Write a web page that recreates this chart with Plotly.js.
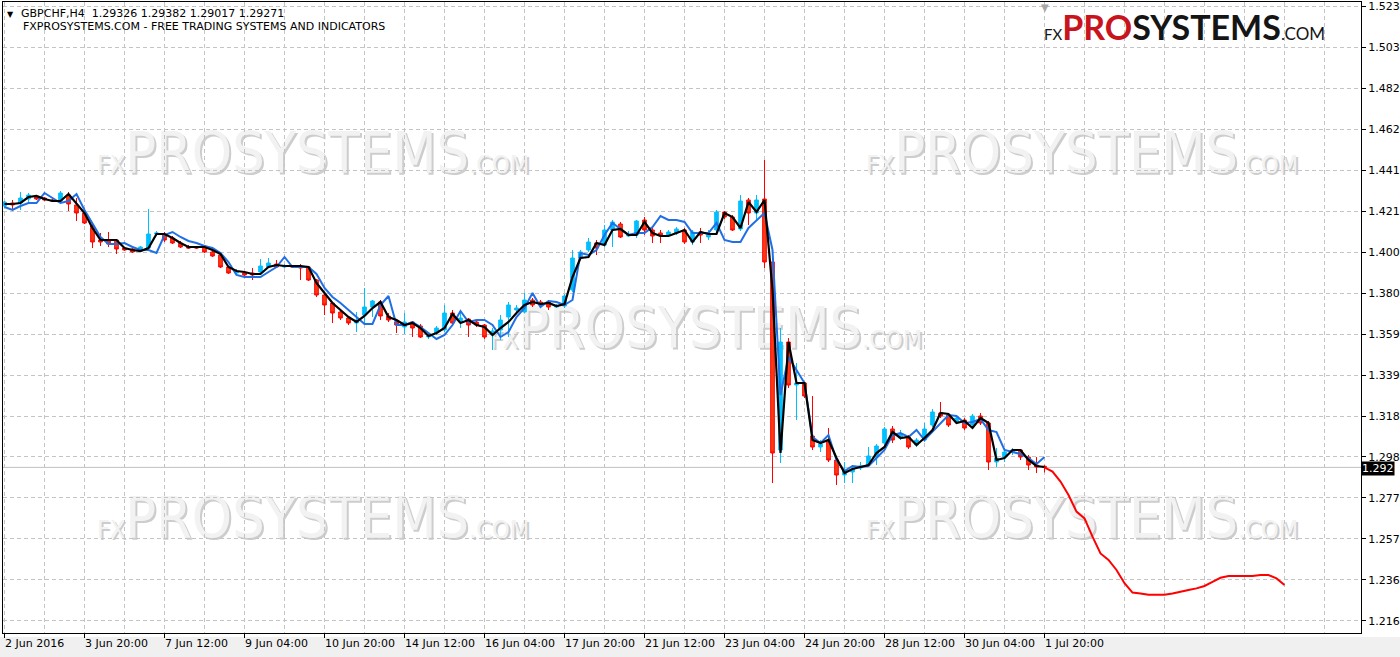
<!DOCTYPE html>
<html><head><meta charset="utf-8">
<script src="https://cdn.plot.ly/plotly-3.0.1.min.js"></script>
<style>html,body{margin:0;padding:0;background:#fff;}#chart{width:1400px;height:657px;}</style>
</head><body><div id="chart"></div>
<script>
const symbolTitle = "GBPCHF,H4&nbsp;&nbsp;1.29326 1.29382 1.29017 1.29271";
const subTitle = "FXPROSYSTEMS.COM - FREE TRADING SYSTEMS AND INDICATORS";
const lastPriceLabel = "1.292";

const openP = [1.4234,1.4249,1.4249,1.4269,1.4279,1.4274,1.4264,1.4259,1.4289,1.4239,
1.4199,1.4134,1.4064,1.4059,1.4064,1.4024,1.4019,1.4009,1.4024,1.4094,
1.4094,1.4074,1.4049,1.4029,1.4029,1.4034,1.4004,1.3989,1.3929,1.3899,
1.3899,1.3899,1.3904,1.3929,1.3944,1.3929,1.3934,1.3934,1.3929,1.3864,
1.3789,1.3749,1.3704,1.3674,1.3649,1.3689,1.3729,1.3754,1.3684,1.3654,
1.3629,1.3654,1.3634,1.3579,1.3599,1.3614,1.3699,1.3654,1.3669,1.3654,
1.3639,1.3589,1.3614,1.3679,1.3714,1.3704,1.3764,1.3754,1.3754,1.3729,
1.3734,1.3814,1.3974,1.4014,1.4049,1.4039,1.4114,1.4144,1.4084,1.4089,
1.4164,1.4114,1.4099,1.4089,1.4099,1.4114,1.4054,1.4104,1.4079,1.4114,
1.4204,1.4179,1.4119,1.4264,1.4199,1.4269,1.3954,1.3014,1.3554,1.3339,
1.3349,1.3084,1.3029,1.3064,1.2964,1.2889,1.2904,1.2924,1.2939,1.2979,
1.3049,1.3119,1.3074,1.3079,1.3039,1.3064,1.3139,1.3199,1.3189,1.3154,
1.3164,1.3139,1.3184,1.3149,1.2954,1.2979,1.3004,1.3014,1.2979,1.2939,
1.29326];
const highP = [1.4259,1.4264,1.4304,1.4299,1.4289,1.4279,1.4269,1.4309,1.4304,1.4274,
1.4204,1.4144,1.4099,1.4104,1.4069,1.4029,1.4024,1.4034,1.4219,1.4109,
1.4104,1.4084,1.4059,1.4039,1.4034,1.4039,1.4014,1.3994,1.3934,1.3919,
1.3904,1.3924,1.3969,1.3974,1.3964,1.3944,1.3939,1.3944,1.3934,1.3869,
1.3794,1.3754,1.3714,1.3684,1.3704,1.3824,1.3764,1.3764,1.3699,1.3669,
1.3699,1.3659,1.3644,1.3594,1.3634,1.3739,1.3714,1.3699,1.3674,1.3664,
1.3644,1.3624,1.3689,1.3754,1.3739,1.3799,1.3774,1.3764,1.3764,1.3744,
1.3794,1.4014,1.4014,1.4074,1.4064,1.4139,1.4164,1.4154,1.4109,1.4164,
1.4179,1.4124,1.4114,1.4114,1.4129,1.4124,1.4114,1.4124,1.4114,1.4214,
1.4209,1.4189,1.4289,1.4274,1.4289,1.4464,1.3954,1.3624,1.3574,1.3449,
1.3354,1.3284,1.3064,1.3124,1.2974,1.2954,1.2939,1.2954,1.3029,1.3044,
1.3129,1.3134,1.3114,1.3089,1.3074,1.3149,1.3219,1.3254,1.3199,1.3189,
1.3174,1.3194,1.3199,1.3159,1.3024,1.3024,1.3024,1.3019,1.2989,1.2979,
1.29382];
const lowP = [1.4224,1.4219,1.4214,1.4249,1.4264,1.4259,1.4254,1.4254,1.4209,1.4159,
1.4144,1.4024,1.4034,1.4029,1.3994,1.4009,1.3999,1.4004,1.4014,1.4084,
1.4054,1.4044,1.4024,1.4019,1.4019,1.3999,1.3979,1.3924,1.3894,1.3894,
1.3884,1.3864,1.3899,1.3924,1.3924,1.3924,1.3924,1.3864,1.3859,1.3779,
1.3689,1.3649,1.3664,1.3639,1.3604,1.3649,1.3679,1.3664,1.3654,1.3599,
1.3594,1.3579,1.3574,1.3569,1.3589,1.3604,1.3639,1.3624,1.3579,1.3629,
1.3569,1.3514,1.3564,1.3579,1.3694,1.3699,1.3729,1.3724,1.3714,1.3724,
1.3724,1.3804,1.3964,1.4004,1.3989,1.4029,1.4029,1.4074,1.4079,1.4074,
1.4089,1.4049,1.4049,1.4079,1.4089,1.4044,1.4039,1.4049,1.4064,1.4104,
1.4169,1.4109,1.4109,1.4139,1.4164,1.3924,1.2849,1.2949,1.3324,1.3164,
1.3274,1.3014,1.3004,1.2954,1.2839,1.2849,1.2849,1.2914,1.2934,1.2939,
1.3039,1.3049,1.3064,1.3019,1.3029,1.3054,1.3129,1.3174,1.3129,1.3144,
1.3114,1.3129,1.3139,1.2914,1.2929,1.2954,1.2989,1.2964,1.2914,1.2899,
1.29017];
const closeP = [1.4254,1.4239,1.4274,1.4289,1.4269,1.4264,1.4259,1.4299,1.4244,1.4199,
1.4149,1.4054,1.4054,1.4044,1.4019,1.4014,1.4004,1.4029,1.4094,1.4099,
1.4064,1.4049,1.4029,1.4024,1.4024,1.4004,1.3984,1.3929,1.3899,1.3909,
1.3889,1.3889,1.3934,1.3949,1.3929,1.3934,1.3929,1.3924,1.3864,1.3789,
1.3739,1.3699,1.3674,1.3649,1.3664,1.3729,1.3759,1.3684,1.3664,1.3639,
1.3654,1.3624,1.3579,1.3584,1.3624,1.3699,1.3649,1.3674,1.3639,1.3639,
1.3579,1.3609,1.3664,1.3739,1.3724,1.3764,1.3739,1.3739,1.3729,1.3734,
1.3784,1.3974,1.4004,1.4054,1.4024,1.4114,1.4154,1.4079,1.4094,1.4159,
1.4114,1.4084,1.4084,1.4104,1.4119,1.4054,1.4104,1.4089,1.4094,1.4204,
1.4179,1.4114,1.4259,1.4199,1.4264,1.3954,1.2999,1.3554,1.3339,1.3349,
1.3284,1.3029,1.3044,1.2964,1.2889,1.2914,1.2919,1.2934,1.2984,1.3034,
1.3119,1.3064,1.3094,1.3029,1.3064,1.3119,1.3204,1.3184,1.3139,1.3174,
1.3124,1.3184,1.3149,1.2954,1.2974,1.3004,1.3014,1.2979,1.2939,1.2929,
1.29271];
const maBlack = [1.4244,1.4244,1.4249,1.4279,1.4284,1.4269,1.4259,1.4259,1.4294,1.4249,
1.4199,1.4124,1.4064,1.4064,1.4064,1.4024,1.4014,1.4009,1.4024,1.4094,
1.4094,1.4074,1.4049,1.4029,1.4029,1.4029,1.4014,1.3994,1.3929,1.3909,
1.3904,1.3894,1.3894,1.3929,1.3939,1.3934,1.3934,1.3934,1.3929,1.3849,
1.3799,1.3749,1.3714,1.3679,1.3654,1.3684,1.3724,1.3754,1.3679,1.3664,
1.3639,1.3649,1.3624,1.3584,1.3599,1.3624,1.3694,1.3649,1.3664,1.3639,
1.3629,1.3589,1.3624,1.3654,1.3699,1.3739,1.3754,1.3744,1.3749,1.3734,
1.3744,1.3879,1.3974,1.3979,1.4049,1.4039,1.4114,1.4119,1.4089,1.4089,
1.4154,1.4099,1.4084,1.4084,1.4099,1.4114,1.4054,1.4104,1.4094,1.4094,
1.4199,1.4179,1.4124,1.4254,1.4204,1.4264,1.3814,1.2999,1.3554,1.3349,
1.3349,1.3064,1.3049,1.3064,1.2974,1.2899,1.2919,1.2929,1.2939,1.2999,
1.3029,1.3104,1.3074,1.3079,1.3039,1.3074,1.3114,1.3199,1.3194,1.3149,
1.3159,1.3124,1.3174,1.3149,1.2964,1.2974,1.3014,1.3014,1.2964,1.2934,
1.2929];
const maBlue = [1.4229,1.4214,1.4234,1.4249,1.4249,1.4299,1.4274,1.4249,1.4259,1.4294,
1.4214,1.4149,1.4079,1.4044,1.4044,1.4049,1.4029,1.4014,1.4014,1.3999,
1.4089,1.4104,1.4079,1.4059,1.4049,1.4034,1.4024,1.3999,1.3954,1.3889,
1.3879,1.3879,1.3879,1.3904,1.3929,1.3979,1.3929,1.3929,1.3929,1.3894,
1.3824,1.3779,1.3749,1.3714,1.3679,1.3644,1.3644,1.3739,1.3784,1.3639,
1.3639,1.3654,1.3629,1.3599,1.3569,1.3589,1.3639,1.3709,1.3654,1.3664,
1.3664,1.3639,1.3579,1.3604,1.3679,1.3724,1.3799,1.3729,1.3759,1.3754,
1.3739,1.3764,1.3999,1.3989,1.4014,1.4089,1.4149,1.4119,1.4089,1.4099,
1.4099,1.4129,1.4184,1.4164,1.4164,1.4154,1.4099,1.4099,1.4099,1.4149,
1.4064,1.4054,1.4054,1.4124,1.4164,1.4199,1.4014,1.3289,1.3479,1.3414,
1.3349,1.3079,1.3049,1.3089,1.2964,1.2909,1.2934,1.2929,1.2934,1.2974,
1.3014,1.3089,1.3099,1.3079,1.3114,1.3064,1.3104,1.3149,1.3189,1.3184,
1.3149,1.3154,1.3169,1.3114,1.3104,1.3014,1.3004,1.2994,1.2974,1.2944,
1.2979];
const forecastP = [1.29271,1.2906,1.2856,1.2789,1.2706,1.2672,1.2581,1.2497,1.2464,1.2414,
1.2348,1.2301,1.2297,1.2290,1.2290,1.2290,1.2297,1.2307,1.2314,1.2322,
1.2334,1.2355,1.2375,1.2384,1.2384,1.2384,1.2384,1.2389,1.2389,1.2372,1.2339];
const xTickLabels = ["2 Jun 2016","3 Jun 20:00","7 Jun 12:00","9 Jun 04:00","10 Jun 20:00","14 Jun 12:00","16 Jun 04:00","17 Jun 20:00","21 Jun 12:00","23 Jun 04:00","24 Jun 20:00","28 Jun 12:00","30 Jun 04:00","1 Jul 20:00"];
const barsPerLabel = 10;
const yTickVals = [1.2160,1.23648,1.25696,1.27744,1.29792,1.3184,1.33888,1.35936,1.37984,1.40032,1.4208,1.44128,1.46176,1.48224,1.50272,1.5232];
const yTickText = ["1.216","1.236","1.257","1.277","1.298","1.318","1.339","1.359","1.380","1.400","1.421","1.441","1.462","1.482","1.503","1.523"];

const bars = openP.map((_, i) => i);
const lastBar = bars.length - 1;
const lastClose = closeP[lastBar];
const fx = forecastP.map((_, k) => lastBar + k);
const xTickPos = xTickLabels.map((_, k) => k * barsPerLabel);

const traces = [
  {type:'candlestick', x:bars, open:openP, high:highP, low:lowP, close:closeP,
   increasing:{line:{color:'#00bfff', width:1}, fillcolor:'#00bfff'},
   decreasing:{line:{color:'#ff0000', width:1}, fillcolor:'#ff3a10'},
   whiskerwidth:0, hoverinfo:'skip', showlegend:false},
  {type:'scatter', mode:'lines', x:bars, y:maBlue, line:{color:'#1f6fe6', width:2}, hoverinfo:'skip'},
  {type:'scatter', mode:'lines', x:bars, y:maBlack, line:{color:'#000000', width:2.2}, hoverinfo:'skip'},
  {type:'scatter', mode:'lines', x:fx, y:forecastP, line:{color:'#ff0000', width:2}, hoverinfo:'skip'}
];

const PL = 3, PR = 39, PT = 2, PB = 24, W = 1400, H = 657;
const PW = W - PL - PR, PH = H - PT - PB;
const dx = px => (px - PL) / PW;
const dy = py => 1 - (py - PT) / PH;

const wmText = '<span style="font-size:25px">FX</span>PROSYSTEMS<span style="font-size:25px">.COM</span>';
const wmCenters = [[313,149],[1082,149],[706,324],[313,514],[1082,514]];
const shapes = [];
wmCenters.forEach(([cx, cy]) => {
  [[2, 2, '#cdcdcd'], [0, 0, '#f2f2f2']].forEach(([ox, oy, col]) => {
    shapes.push({type:'rect', xref:'x domain', yref:'y domain', layer:'below',
      x0:dx(cx - 240 + ox), x1:dx(cx + 240 + ox), y0:dy(cy + 40 + oy), y1:dy(cy - 40 + oy),
      line:{width:0}, fillcolor:'rgba(0,0,0,0)',
      label:{text:wmText, textposition:'middle center', padding:0,
        font:{family:'Liberation Sans Narrow, DejaVu Sans Condensed, sans-serif', size:57, color:col}}});
  });
});
shapes.push({type:'line', xref:'paper', x0:0, x1:1, yref:'y', y0:lastClose, y1:lastClose,
  line:{color:'#c0c0c0', width:1}, layer:'below'});
shapes.push({type:'rect', xref:'paper', yref:'paper', x0:-PL/PW, x1:(W-PL)/PW, y0:-(PB-20)/PH, y1:-PB/PH,
  line:{width:0}, fillcolor:'#f0f0f0', layer:'below'});

const annotations = [];
xTickLabels.forEach((t, k) => {
  annotations.push({xref:'x', x:xTickPos[k], xanchor:'left', xshift:-2, yref:'paper', y:0, yanchor:'top', yshift:-2,
    text:t, showarrow:false, font:{family:'DejaVu Sans', size:11, color:'#000'}});
});
annotations.push({xref:'paper', x:0, xanchor:'left', xshift:2, yref:'paper', y:1, yanchor:'top', yshift:-6,
  text:'▼', showarrow:false, font:{family:'DejaVu Sans', size:8, color:'#000'}});
annotations.push({xref:'paper', x:0, xanchor:'left', xshift:16, yref:'paper', y:1, yanchor:'top', yshift:-3,
  text:symbolTitle, showarrow:false, font:{family:'DejaVu Sans', size:11, color:'#000'}});
annotations.push({xref:'paper', x:0, xanchor:'left', xshift:18, yref:'paper', y:1, yanchor:'top', yshift:-16,
  text:subTitle, showarrow:false, font:{family:'DejaVu Sans', size:11, color:'#000'}});
annotations.push({xref:'paper', x:1, xanchor:'left', xshift:0, yref:'y', y:lastClose, yanchor:'middle', yshift:-1,
  text:lastPriceLabel, showarrow:false, bgcolor:'#000', borderpad:0,
  font:{family:'DejaVu Sans', size:11, color:'#fff'}});
annotations.push({xref:'x', x:lastBar, xanchor:'center', yref:'paper', y:1, yanchor:'top', yshift:2,
  text:'▼', showarrow:false, font:{family:'DejaVu Sans', size:10, color:'#a8a8a8'}});
annotations.push({xref:'paper', x:dx(1184), xanchor:'center', yref:'paper', y:dy(26), yanchor:'middle',
  text:'<span style="font-size:15px;font-weight:400">FX</span><b><span style="color:#c8141c">PRO</span>SYSTEMS</b><span style="font-size:17px;font-weight:400">.COM</span>',
  showarrow:false, font:{family:'Lato, Open Sans, sans-serif', size:34, color:'#151515'}});

const gridStyle = {gridcolor:'#c4c4c4', griddash:'4px,3px', gridwidth:1};
const layout = {
  width:W, height:H, margin:{l:PL, r:PR, t:PT, b:PB},
  paper_bgcolor:'#ffffff', plot_bgcolor:'#ffffff', showlegend:false, boxgap:0.35,
  font:{family:'DejaVu Sans', size:11, color:'#000'},
  xaxis:Object.assign({range:[(PL-4.5)/8, (W-PR-4.5)/8], showline:true, mirror:true, linecolor:'#000', linewidth:1,
    tickmode:'array', tickvals:xTickPos, ticks:'outside', ticklen:4, tickcolor:'#000', showticklabels:false,
    showgrid:true, zeroline:false, rangeslider:{visible:false}, fixedrange:true,
    minor:Object.assign({tick0:0, dtick:5, showgrid:true, ticks:''}, gridStyle)}, gridStyle),
  yaxis:Object.assign({side:'right', range:[1.2099, 1.5254], tickmode:'array', tickvals:yTickVals, ticktext:yTickText,
    ticks:'outside', ticklen:4, tickcolor:'#000', showline:true, mirror:true, linecolor:'#000', linewidth:1,
    showgrid:true, zeroline:false, fixedrange:true, tickfont:{family:'DejaVu Sans', size:11, color:'#000'}}, gridStyle),
  shapes:shapes, annotations:annotations
};
Plotly.newPlot('chart', traces, layout, {staticPlot:true, displayModeBar:false});
</script></body></html>
